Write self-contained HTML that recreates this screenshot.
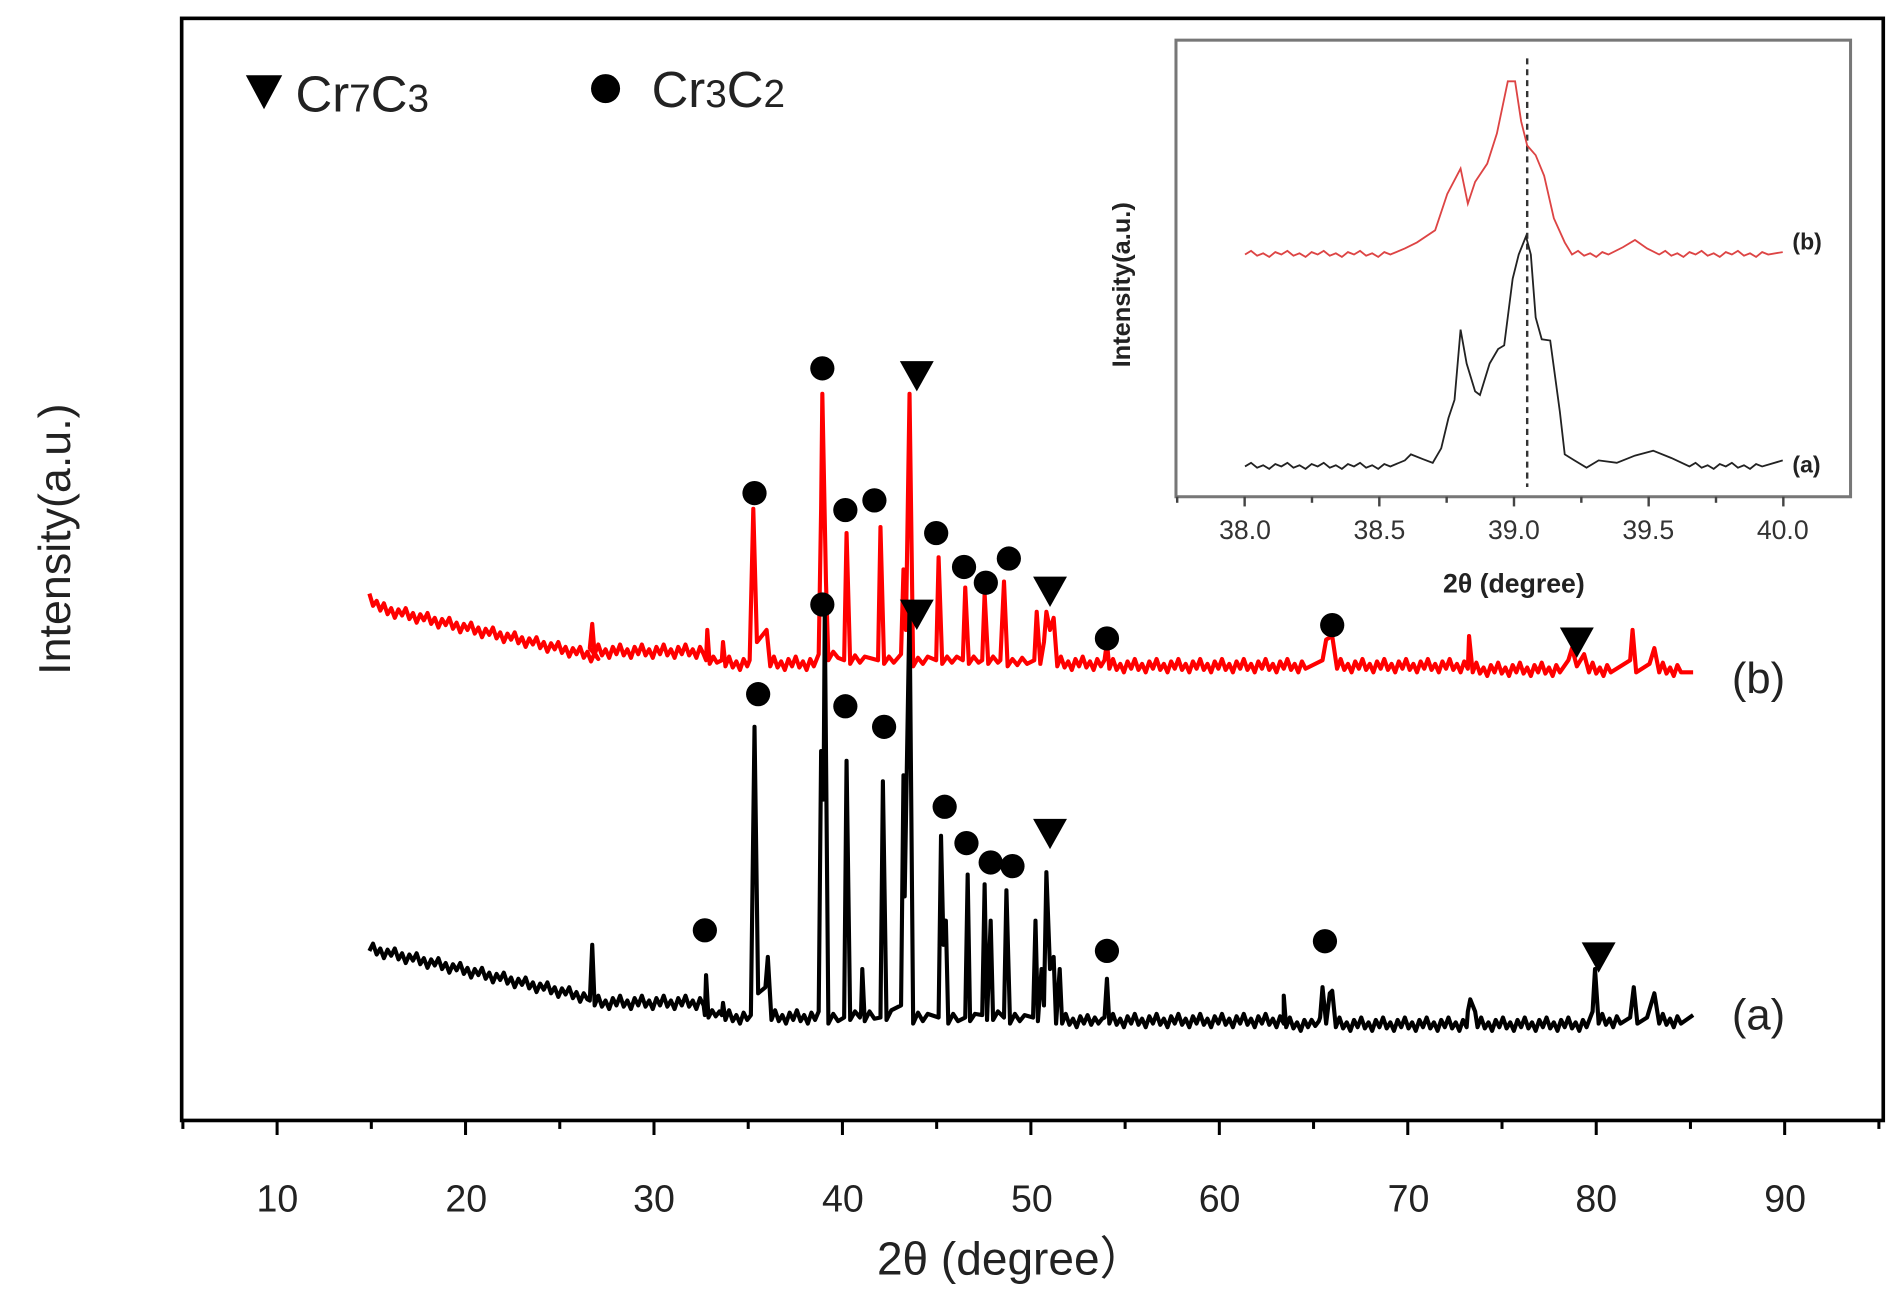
<!DOCTYPE html>
<html><head><meta charset="utf-8"><style>
html,body{margin:0;padding:0;background:#fff;}
svg{display:block;}
text{font-family:"Liberation Sans",sans-serif;}
</style></head><body>
<svg width="1899" height="1312" viewBox="0 0 1568 1083" xmlns="http://www.w3.org/2000/svg">
<rect width="1568" height="1083" fill="#fff"/>
<rect x="150" y="15" width="1405" height="910" fill="none" stroke="#000" stroke-width="3"/>
<g stroke="#000" stroke-width="2.5">
<line x1="151" y1="925" x2="151" y2="932"/><line x1="228.8" y1="925" x2="228.8" y2="937"/><line x1="306.6" y1="925" x2="306.6" y2="932"/><line x1="384.4" y1="925" x2="384.4" y2="937"/><line x1="462.2" y1="925" x2="462.2" y2="932"/><line x1="540" y1="925" x2="540" y2="937"/><line x1="617.8" y1="925" x2="617.8" y2="932"/><line x1="695.6" y1="925" x2="695.6" y2="937"/><line x1="773.4" y1="925" x2="773.4" y2="932"/><line x1="851.2" y1="925" x2="851.2" y2="937"/><line x1="929" y1="925" x2="929" y2="932"/><line x1="1006.8" y1="925" x2="1006.8" y2="937"/><line x1="1084.6" y1="925" x2="1084.6" y2="932"/><line x1="1162.4" y1="925" x2="1162.4" y2="937"/><line x1="1240.2" y1="925" x2="1240.2" y2="932"/><line x1="1318" y1="925" x2="1318" y2="937"/><line x1="1395.8" y1="925" x2="1395.8" y2="932"/><line x1="1473.6" y1="925" x2="1473.6" y2="937"/><line x1="1551.4" y1="925" x2="1551.4" y2="932"/>
</g>
<g font-size="31" fill="#222" text-anchor="middle">
<text x="229" y="1000">10</text><text x="385" y="1000">20</text><text x="540" y="1000">30</text><text x="696" y="1000">40</text><text x="852" y="1000">50</text><text x="1007" y="1000">60</text><text x="1163" y="1000">70</text><text x="1318" y="1000">80</text><text x="1474" y="1000">90</text>
</g>
<text x="835" y="1052" font-size="38" text-anchor="middle" fill="#222">2θ (degree）</text>
<text transform="translate(58,445) rotate(-90)" font-size="37" text-anchor="middle" fill="#222">Intensity(a.u.)</text>
<polygon points="203,62 233,62 218,90" fill="#000"/>
<text x="244" y="92" font-size="42" fill="#222">Cr<tspan font-size="32">7</tspan>C<tspan font-size="32">3</tspan></text>
<circle cx="500" cy="73" r="12" fill="#000"/>
<text x="538" y="88" font-size="42" fill="#222">Cr<tspan font-size="32">3</tspan>C<tspan font-size="32">2</tspan></text>

<path fill="none" stroke="#f00" stroke-width="3.4" stroke-linejoin="round" d="M305,490 l3,10 l3,-4 l3,8 l3,-6 l3,9 l3,-5 l3,8 l3,-7 l3,5 l3,-6 l3,9 l3,-5 l3,8 l3,-7 l3,5 l3,-6 l3,9 l3,-5 l3,8 l3,-7 l3,5 l3,-6 l3,9 l3,-5 l3,8 l3,-7 l3,5 l3,-6 l3,9 l3,-5 l3,8 l3,-7 l3,5 l3,-6 l3,9 l3,-5 l3,8 l3,-7 l3,5 l3,-6 l3,9 l3,-5 l3,8 l3,-7 l3,5 l3,-6 l3,9 l3,-5 l3,8 l3,-7 l3,5 l3,-6 l3,9 l3,-5 l3,8 l3,-7 l3,5 l3,-6 l3,9 l3,-5 l3,8 l3,-7 l3,5 L487,535 L489,515 L491,540 l3,-8 l3,9 l3,-5 l3,7 l3,-9 l3,6 l3,-8 l3,9 l3,-5 l3,7 l3,-9 l3,6 l3,-8 l3,9 l3,-5 l3,7 l3,-9 l3,6 l3,-8 l3,9 l3,-5 l3,7 l3,-9 l3,6 l3,-8 l3,9 l3,-5 l3,7 l3,-9 l3,6 L583,545 L584,520 L586,548 l3,-6 l3,5 L596,545 L597,530 L599,550 l3,-8 l3,9 l3,-5 l3,7 l3,-9 l3,6 L619,545 L622,420 L625,530 L633,520 L636,550 l3,-8 l3,9 l3,-5 l3,7 l3,-9 l3,6 l3,-8 l3,9 l3,-5 l3,7 l3,-9 l3,6 L676,540 L678,420 L679,325 L682,480 L684,545 l4,-7 l4,5 L697,545 L699,440 L702,548 l4,-7 l4,6 l4,-5 L725,545 L727,435 L730,548 l4,-6 l4,5 L744,540 L746,470 L748,520 L751,325 L754,550 l4,-7 l4,5 l4,-6 L773,545 L775,460 L778,548 l4,-6 l4,5 l4,-5 L795,545 L797,485 L800,548 l4,-6 l4,5 L811,545 L813,490 L816,548 l4,-6 l4,5 L826,545 L829,480 L832,550 l4,-6 l4,5 l4,-6 l4,5 L854,545 L856,505 L859,548 L862,530 L864,505 L867,520 L870,510 L873,550 l3,-8 l3,9 l3,-5 l3,7 l3,-9 l3,6 l3,-8 l3,9 l3,-5 l3,7 l3,-9 l3,6 L912,545 L914,530 L916,552 l3,-8 l3,9 l3,-5 l3,7 l3,-9 l3,6 l3,-8 l3,9 l3,-5 l3,7 l3,-9 l3,6 l3,-8 l3,9 l3,-5 l3,7 l3,-9 l3,6 l3,-8 l3,9 l3,-5 l3,7 l3,-9 l3,6 l3,-8 l3,9 l3,-5 l3,7 l3,-9 l3,6 l3,-8 l3,9 l3,-5 l3,7 l3,-9 l3,6 l3,-8 l3,9 l3,-5 l3,7 l3,-9 l3,6 l3,-8 l3,9 l3,-5 l3,7 l3,-9 l3,6 l3,-8 l3,9 l3,-5 l3,7 l3,-9 l3,6 L1092,545 L1095,528 L1100,525 L1104,552 l3,-8 l3,9 l3,-5 l3,7 l3,-9 l3,6 l3,-8 l3,9 l3,-5 l3,7 l3,-9 l3,6 l3,-8 l3,9 l3,-5 l3,7 l3,-9 l3,6 l3,-8 l3,9 l3,-5 l3,7 l3,-9 l3,6 l3,-8 l3,9 l3,-5 l3,7 l3,-9 l3,6 l3,-8 l3,9 l3,-5 l3,7 l3,-9 l3,6 L1213,525 L1216,555 l3,-8 l3,9 l3,-5 l3,7 l3,-9 l3,6 l3,-8 l3,9 l3,-5 l3,7 l3,-9 l3,6 l3,-8 l3,9 l3,-5 l3,7 l3,-9 l3,6 l3,-8 l3,9 l3,-5 l3,7 l3,-9 l3,6 L1295,545 L1298,535 L1302,550 L1308,540 L1312,555 l3,-8 l3,9 l3,-5 l3,7 l3,-9 l3,6 L1346,545 L1348,520 L1351,555 L1362,548 L1366,535 L1370,555 l3,-8 l3,9 l3,-5 l3,7 l3,-9 l3,6 L1398,555"/>

<path fill="none" stroke="#000" stroke-width="3.4" stroke-linejoin="round" d="M305,785 l3,-6 l3,9 l3,-5 l3,8 l3,-7 l3,5 l3,-6 l3,9 l3,-5 l3,8 l3,-7 l3,5 l3,-6 l3,9 l3,-5 l3,8 l3,-7 l3,5 l3,-6 l3,9 l3,-5 l3,8 l3,-7 l3,5 l3,-6 l3,9 l3,-5 l3,8 l3,-7 l3,5 l3,-6 l3,9 l3,-5 l3,8 l3,-7 l3,5 l3,-6 l3,9 l3,-5 l3,8 l3,-7 l3,5 l3,-6 l3,9 l3,-5 l3,8 l3,-7 l3,5 l3,-6 l3,9 l3,-5 l3,8 l3,-7 l3,5 l3,-6 l3,9 l3,-5 l3,8 l3,-7 l3,5 L487,826 L489,780 L491,830 l3,-8 l3,9 l3,-5 l3,7 l3,-9 l3,6 l3,-8 l3,9 l3,-5 l3,7 l3,-9 l3,6 l3,-8 l3,9 l3,-5 l3,7 l3,-9 l3,6 l3,-8 l3,9 l3,-5 l3,7 l3,-9 l3,6 l3,-8 l3,9 l3,-5 l3,7 l3,-9 l3,6 L582,838 L583,805 L585,840 l3,-6 l3,5 l3,-4 L596,838 L597,828 L599,842 l3,-8 l3,9 l3,-5 l3,7 l3,-9 l3,6 L620,838 L623,600 L626,820 L632,815 L634,790 L637,842 l3,-8 l3,9 l3,-5 l3,7 l3,-9 l3,6 l3,-8 l3,9 l3,-5 l3,7 l3,-9 l3,6 L676,835 L678,620 L680,660 L681,505 L684,845 l4,-8 l4,6 L697,840 L699,628 L702,842 l4,-7 l4,5 L711,835 L712,800 L714,843 l4,-8 l4,6 L727,840 L729,645 L732,842 l4,-8 L744,830 L746,640 L747,740 L751,500 L754,845 l4,-9 l4,7 l4,-6 L775,840 L777,690 L779,780 L781,760 L783,845 l4,-8 l4,6 L797,840 L799,722 L801,843 l4,-6 L811,838 L813,730 L815,842 L818,760 L820,842 l4,-7 L829,840 L831,735 L834,845 l4,-8 l4,6 l4,-5 L853,840 L855,760 L857,843 L860,800 L862,830 L864,720 L867,800 L870,790 L872,845 L875,800 L877,845 l3,-8 l3,9 l3,-5 l3,7 l3,-9 l3,6 l3,-7 l3,8 l3,-6 l3,5 l3,-4 L912,840 L914,808 L916,845 l3,-8 l3,9 l3,-5 l3,7 l3,-9 l3,6 l3,-8 l3,9 l3,-5 l3,7 l3,-9 l3,6 l3,-8 l3,9 l3,-5 l3,7 l3,-9 l3,6 l3,-8 l3,9 l3,-5 l3,7 l3,-9 l3,6 l3,-8 l3,9 l3,-5 l3,7 l3,-9 l3,6 l3,-8 l3,9 l3,-5 l3,7 l3,-9 l3,6 l3,-8 l3,9 l3,-5 l3,7 l3,-9 l3,6 l3,-8 l3,9 l3,-5 l3,7 l3,-9 l3,6 L1060,822 L1062,848 l3,-8 l3,9 l3,-5 l3,7 l3,-9 l3,6 l3,-6 l3,5 l3,-4 L1090,840 L1092,815 L1095,845 L1098,820 L1100,818 L1103,848 l3,-8 l3,9 l3,-5 l3,7 l3,-9 l3,6 l3,-8 l3,9 l3,-5 l3,7 l3,-9 l3,6 l3,-8 l3,9 l3,-5 l3,7 l3,-9 l3,6 l3,-8 l3,9 l3,-5 l3,7 l3,-9 l3,6 l3,-8 l3,9 l3,-5 l3,7 l3,-9 l3,6 l3,-8 l3,9 l3,-5 l3,7 l3,-9 l3,6 L1212,835 L1214,825 L1218,835 L1220,848 l3,-8 l3,9 l3,-5 l3,7 l3,-9 l3,6 l3,-8 l3,9 l3,-5 l3,7 l3,-9 l3,6 l3,-8 l3,9 l3,-5 l3,7 l3,-9 l3,6 l3,-8 l3,9 l3,-5 l3,7 l3,-9 l3,6 l3,-8 l3,9 l3,-5 l3,7 l3,-9 l3,6 L1315,835 L1317,800 L1320,845 l3,-8 l3,9 l3,-5 l3,7 l3,-9 l3,6 L1346,840 L1349,815 L1352,845 L1360,840 L1366,820 L1370,845 l3,-8 l3,9 l3,-5 l3,7 l3,-9 l3,6 L1398,838"/>

<g fill="#000">
<circle cx="623" cy="407" r="10"/><circle cx="679" cy="304" r="10"/><circle cx="698" cy="421" r="10"/><circle cx="722" cy="413" r="10"/><circle cx="773" cy="440" r="10"/><circle cx="796" cy="468" r="10"/><circle cx="814" cy="481" r="10"/><circle cx="833" cy="461" r="10"/><circle cx="914" cy="527" r="10"/><circle cx="1100" cy="516" r="10"/><circle cx="679" cy="499" r="10"/><circle cx="626" cy="573" r="10"/><circle cx="698" cy="583" r="10"/><circle cx="730" cy="600" r="10"/><circle cx="780" cy="666" r="10"/><circle cx="798" cy="696" r="10"/><circle cx="818" cy="712" r="10"/><circle cx="836" cy="715" r="10"/><circle cx="582" cy="768" r="10"/><circle cx="914" cy="785" r="10"/><circle cx="1094" cy="777" r="10"/>
<polygon points="743,298 771,298 757,323"/><polygon points="853,476 881,476 867,501"/><polygon points="743,495 771,495 757,520"/><polygon points="1288,518 1316,518 1302,543"/><polygon points="853,676 881,676 867,701"/><polygon points="1306,778 1334,778 1320,803"/>
</g>
<text x="1430" y="572" font-size="36" fill="#222">(b)</text>
<text x="1430" y="850" font-size="36" fill="#222">(a)</text>

<rect x="971" y="33" width="557" height="377" fill="#fff" stroke="#777" stroke-width="2.5"/>
<line x1="1261" y1="48" x2="1261" y2="402" stroke="#333" stroke-width="2" stroke-dasharray="5,4"/>
<g stroke="#444" stroke-width="2">
<line x1="972" y1="410" x2="972" y2="415"/><line x1="1027.7" y1="410" x2="1027.7" y2="418"/><line x1="1083.3" y1="410" x2="1083.3" y2="415"/><line x1="1138.9" y1="410" x2="1138.9" y2="418"/><line x1="1194.5" y1="410" x2="1194.5" y2="415"/><line x1="1250.1" y1="410" x2="1250.1" y2="418"/><line x1="1305.7" y1="410" x2="1305.7" y2="415"/><line x1="1361.3" y1="410" x2="1361.3" y2="418"/><line x1="1416.9" y1="410" x2="1416.9" y2="415"/><line x1="1472.5" y1="410" x2="1472.5" y2="418"/>
</g>
<g font-size="22" fill="#333" text-anchor="middle">
<text x="1028" y="445">38.0</text><text x="1139" y="445">38.5</text><text x="1250" y="445">39.0</text><text x="1361" y="445">39.5</text><text x="1472" y="445">40.0</text>
</g>
<text x="1250" y="489" font-size="22" font-weight="bold" text-anchor="middle" fill="#222">2θ (degree)</text>
<text transform="translate(933,235) rotate(-90)" font-size="21" font-weight="bold" text-anchor="middle" fill="#222">Intensity(a.u.)</text>
<path fill="none" stroke="#d44" stroke-width="1.5" d="M1028,210 l5,-3 l5,4 l5,-2 l5,3 l5,-4 l5,2 l5,-3 l5,4 l5,-2 l5,3 l5,-4 l5,2 l5,-3 l5,4 l5,-2 l5,3 l5,-4 l5,2 l5,-3 l5,4 l5,-2 l5,3 l5,-4 l5,2 L1160,205 L1170,200 L1185,190 L1195,160 L1206,139 L1212,168 L1218,150 L1228,135 L1236,110 L1245,67 L1251,67 L1256,100 L1261,120 L1268,128 L1275,145 L1283,180 L1292,200 L1298,210 l5,-3 l5,4 l5,-2 l5,3 l5,-4 l5,2 L1340,204 L1350,198 L1360,205 L1370,210 l5,-3 l5,4 l5,-2 l5,3 l5,-4 l5,2 l5,-3 l5,4 l5,-2 l5,3 l5,-4 l5,2 l5,-3 l5,4 l5,-2 l5,3 l5,-4 l5,2 L1472,208"/>
<path fill="none" stroke="#222" stroke-width="1.5" d="M1028,385 l5,-3 l5,4 l5,-2 l5,3 l5,-4 l5,2 l5,-3 l5,4 l5,-2 l5,3 l5,-4 l5,2 l5,-3 l5,4 l5,-2 l5,3 l5,-4 l5,2 l5,-3 l5,4 l5,-2 l5,3 l5,-4 l5,2 L1160,380 L1165,375 L1175,379 L1183,382 L1190,370 L1196,345 L1201,330 L1206,272 L1211,300 L1218,323 L1222,326 L1230,300 L1237,288 L1242,285 L1249,230 L1254,210 L1260,195 L1264,210 L1268,262 L1273,280 L1280,281 L1288,340 L1292,375 L1300,380 L1310,386 L1320,380 L1335,382 L1350,376 L1365,372 L1380,378 L1395,385 l5,-3 l5,4 l5,-2 l5,3 l5,-4 l5,2 l5,-3 l5,4 l5,-2 l5,3 l5,-4 l5,2 L1472,380"/>
<text x="1480" y="206" font-size="19" font-weight="bold" fill="#222">(b)</text>
<text x="1480" y="390" font-size="19" font-weight="bold" fill="#222">(a)</text>
</svg>
</body></html>
